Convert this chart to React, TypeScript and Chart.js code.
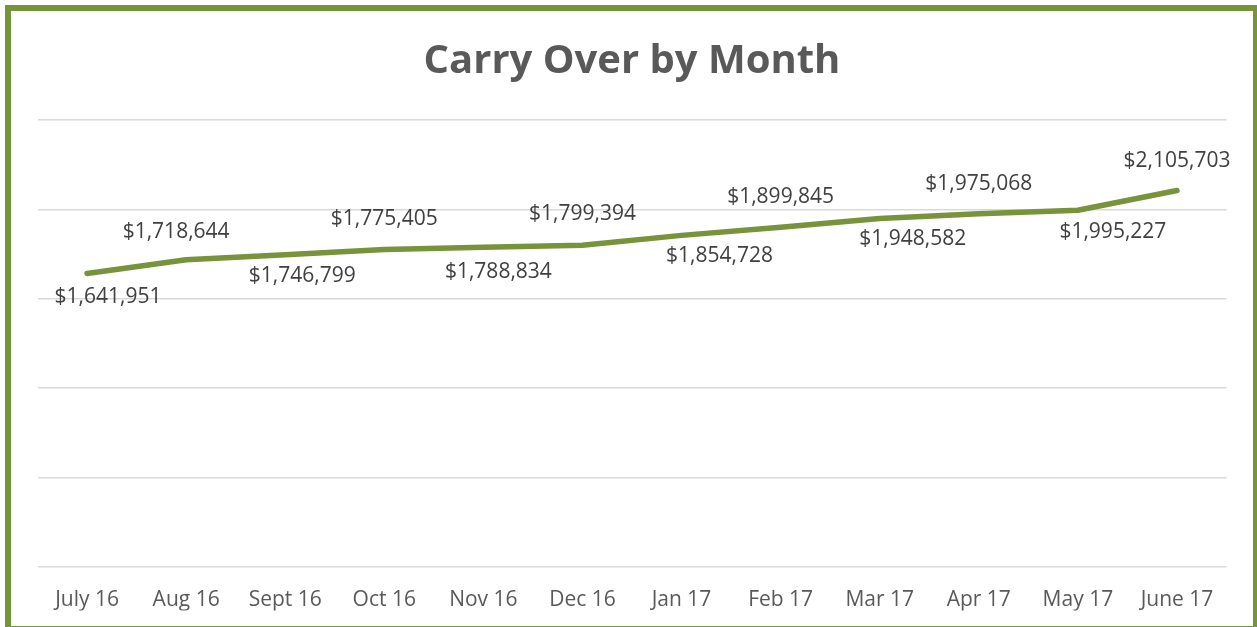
import React, { useEffect, useRef } from "react";
import { Chart, registerables } from "chart.js";

Chart.register(...registerables);

const months = ["July 16", "Aug 16", "Sept 16", "Oct 16", "Nov 16", "Dec 16", "Jan 17", "Feb 17", "Mar 17", "Apr 17", "May 17", "June 17"];
const carryOver = [1641951, 1718644, 1746799, 1775405, 1788834, 1799394, 1854728, 1899845, 1948582, 1975068, 1995227, 2105703];
const yTicks = { min: 0, max: 2500000, step: 500000 };
// label placement nudges (px): [dx, dy of cap-centre relative to point]
const labelNudges: [number, number][] = [
  [21, 22], [-10, -29], [17, 19.5], [0, -32], [15, 23], [0, -33],
  [38, 19.5], [0, -32], [33, 18.5], [0, -31.5], [35, 20], [0, -31.5],
];

const FONT = "'Open Sans', 'Noto Sans', sans-serif";

const fmt = (v: number) => "$" + v.toLocaleString("en-US");

const dataLabelPlugin = {
  id: "dataLabels",
  afterDatasetsDraw(chart: any) {
    const ctx = chart.ctx;
    const meta = chart.getDatasetMeta(0);
    ctx.save();
    ctx.font = `21px ${FONT}`;
    ctx.fillStyle = "#404040";
    ctx.textAlign = "center";
    ctx.textBaseline = "alphabetic";
    meta.data.forEach((pt: any, i: number) => {
      const [dx, dy] = labelNudges[i];
      ctx.fillText(fmt(carryOver[i]), pt.x + dx, pt.y + dy + 7.5);
    });
    ctx.restore();
  },
};

export default function App() {
  const ref = useRef<HTMLCanvasElement | null>(null);
  useEffect(() => {
    if (!ref.current) return;
    const chart = new Chart(ref.current, {
      type: "line",
      data: {
        labels: months,
        datasets: [
          {
            data: carryOver,
            borderColor: "#77933C",
            backgroundColor: "#77933C",
            borderWidth: 5.5,
            pointRadius: 0,
            tension: 0,
            borderCapStyle: "round",
            borderJoinStyle: "round",
          },
        ],
      },
      options: {
        animation: false,
        responsive: false,
        maintainAspectRatio: false,
        layout: { padding: { left: 26.5, right: 26.5, top: 0, bottom: 15.4 } },
        plugins: {
          legend: { display: false },
          tooltip: { enabled: false },
          title: {
            display: true,
            text: "Carry Over by Month",
            color: "#595959",
            font: { family: FONT, size: 40, weight: "bold" },
            padding: { top: 27, bottom: 34 },
          },
        },
        scales: {
          x: {
            offset: true,
            grid: { display: false, drawTicks: false },
            border: { display: false },
            ticks: {
              color: "#595959",
              font: { family: FONT, size: 21 },
              padding: 20.4,
              maxRotation: 0,
              autoSkip: false,
            },
            afterFit: (s: any) => {
              s.height = 43.6;
            },
          },
          y: {
            min: yTicks.min,
            max: yTicks.max,
            ticks: { display: false, stepSize: yTicks.step },
            grid: { color: "#d9d9d9", lineWidth: 1.5, drawTicks: false },
            border: { display: false },
          },
        },
      },
      plugins: [dataLabelPlugin],
    } as any);
    return () => chart.destroy();
  }, []);

  return (
    <div
      style={{
        position: "fixed",
        left: 5,
        top: 5,
        width: 1242,
        height: 615,
        borderStyle: "solid",
        borderColor: "#77933C",
        borderWidth: "6px 4px 1px 6px",
        background: "#fff",
      }}
    >
      <canvas ref={ref} width={1242} height={615} style={{ display: "block" }} />
    </div>
  );
}
